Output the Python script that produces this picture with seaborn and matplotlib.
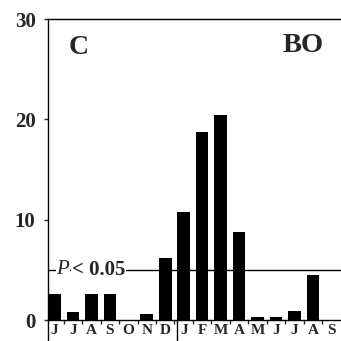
import matplotlib
matplotlib.use("Agg")
import matplotlib.pyplot as plt
import seaborn as sns
import pandas as pd

months = ["J", "J", "A", "S", "O", "N", "D", "J", "F", "M", "A", "M", "J", "J", "A", "S"]
values = [2.6, 0.8, 2.6, 2.6, 0.0, 0.6, 6.2, 10.8, 18.7, 20.4, 8.8, 0.3, 0.3, 0.9, 4.5, 0.0]
yticks = [0, 10, 20, 30]
threshold = 5
panel_label = "C"
site_label = "BO"

sns.set_style("white")
plt.rcParams["font.family"] = ["Liberation Serif", "DejaVu Serif"]

df = pd.DataFrame({"idx": list(range(len(months))), "value": values})

fig = plt.figure(figsize=(3.41, 3.41), dpi=100)
ax = fig.add_axes([48 / 341, 0.0, 1 - 48 / 341, (341 - 19) / 341])
sns.barplot(data=df, x="idx", y="value", color="black", saturation=1,
            width=0.68, ax=ax, edgecolor="none")

ax.set_xlim(-0.35, 15.52)
ax.set_ylim(-2.09, 30)
ax.set_xlabel("")
ax.set_ylabel("")

for s in ["top", "left", "bottom"]:
    ax.spines[s].set_visible(True)
    ax.spines[s].set_color("black")
    ax.spines[s].set_linewidth(1.0)
ax.spines["right"].set_visible(False)
ax.spines["bottom"].set_position(("data", 0))

ax.set_yticks(yticks)
ax.set_yticklabels([str(t) for t in yticks], fontsize=15, fontweight="bold")
ax.tick_params(axis="y", direction="out", length=3, width=1, pad=6, left=True)

ax.set_xticks(range(len(months)))
ax.set_xticklabels(months, fontsize=11, fontweight="bold")
ax.tick_params(axis="x", which="major", length=0, pad=3)
ax.set_xticks([i + 0.5 for i in range(len(months) - 1)], minor=True)
ax.tick_params(axis="x", which="minor", direction="out", length=3, width=1, bottom=True)

ax.axhline(threshold, color="black", lw=1.0, zorder=1)
ax.plot([6.62, 6.62], [0, -2.09], color="black", lw=1.0, clip_on=False)

ax.text(0.93, threshold, "< 0.05", fontsize=15, fontweight="bold", va="center", ha="left",
        bbox=dict(facecolor="white", edgecolor="none", pad=0.5), zorder=3)
ax.text(0.1, threshold, "P", fontsize=15, fontstyle="italic", va="center", ha="left",
        bbox=dict(facecolor="white", edgecolor="none", pad=0.5), zorder=4)

ax.text(0.75, 27.2, panel_label, fontsize=20, fontweight="bold", va="center", ha="left")
ax.text(12.35, 27.4, site_label, fontsize=20.5, fontweight="bold", va="center", ha="left")

fig.savefig("out.png", dpi=100)
